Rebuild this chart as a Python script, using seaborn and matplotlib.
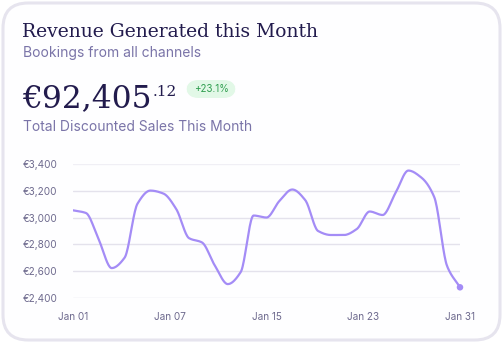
import numpy as np
import pandas as pd
import seaborn as sns
import matplotlib
matplotlib.use("Agg")
import matplotlib.pyplot as plt
from matplotlib.patches import FancyBboxPatch

# ---------------- data ----------------
days = list(range(1, 32))
revenue = [3055, 3035, 2834, 2622, 2700, 3105, 3203, 3181, 3065, 2846,
           2814, 2640, 2502, 2592, 3016, 3001, 3125, 3211, 3132, 2900,
           2870, 2870, 2915, 3046, 3020, 3185, 3353, 3301, 3155, 2637, 2478]
tick_labels = ["Jan 01", "Jan 07", "Jan 15", "Jan 23", "Jan 31"]
y_ticks = [2400, 2600, 2800, 3000, 3200, 3400]

title = "Revenue Generated this Month"
subtitle = "Bookings from all channels"
total_main = "€92,405"
total_cents = ".12"
change = "+23.1%"
caption = "Total Discounted Sales This Month"

W, H = 503, 344

def monotone(x, y, n=20):
    x = np.asarray(x, float); y = np.asarray(y, float)
    h = np.diff(x); d = np.diff(y) / h
    m = np.zeros_like(y)
    m[0], m[-1] = d[0], d[-1]
    for i in range(1, len(y) - 1):
        if d[i - 1] * d[i] <= 0:
            m[i] = 0
        else:
            w1 = 2 * h[i] + h[i - 1]; w2 = h[i] + 2 * h[i - 1]
            m[i] = (w1 + w2) / (w1 / d[i - 1] + w2 / d[i])
    xs, ys = [], []
    for i in range(len(x) - 1):
        t = np.linspace(0, 1, n, endpoint=False)
        h00 = 2*t**3 - 3*t**2 + 1; h10 = t**3 - 2*t**2 + t
        h01 = -2*t**3 + 3*t**2; h11 = t**3 - t**2
        xs.append(x[i] + t * h[i])
        ys.append(h00*y[i] + h10*h[i]*m[i] + h01*y[i+1] + h11*h[i]*m[i+1])
    xs.append([x[-1]]); ys.append([y[-1]])
    return np.concatenate(xs), np.concatenate(ys)

sns.set_theme(style="white")
plt.rcParams["font.family"] = ["Inter", "DejaVu Sans"]

fig = plt.figure(figsize=(W / 100, H / 100), dpi=100)
fig.patch.set_facecolor("white")

def fx(x): return x / W
def fy(y): return 1 - y / H

# card
card = FancyBboxPatch((fx(3), fy(340)), fx(497), (337) / H,
                      boxstyle="round,pad=0,rounding_size=0.05",
                      transform=fig.transFigure, facecolor="#fefeff",
                      edgecolor="#e6e4ee", linewidth=2.2, zorder=-5,
                      mutation_aspect=W / H)
fig.patches.append(card)

dark = "#221b4d"
muted = "#7a74a8"

fig.text(fx(22), fy(37), title, fontsize=13.5, color=dark,
         family=["DejaVu Serif"], va="baseline")
fig.text(fx(23), fy(57), subtitle, fontsize=10, color=muted, va="baseline")
tmain = fig.text(fx(22), fy(107), total_main, fontsize=22.5, color=dark,
                 family=["DejaVu Serif"], va="baseline")
fig.canvas.draw()
bb = tmain.get_window_extent()
fig.text((bb.x1 + 1) / W, fy(96), total_cents, fontsize=11, color=dark,
         family=["DejaVu Serif"], va="baseline")

badge = FancyBboxPatch((fx(186), fy(98)), fx(50), 18 / H,
                       boxstyle="round,pad=0,rounding_size=0.025",
                       transform=fig.transFigure, facecolor="#e2f8e7",
                       edgecolor="none", mutation_aspect=W / H, zorder=-4)
fig.patches.append(badge)
fig.text(fx(211), fy(89), change, fontsize=7, color="#2f9e4f",
         ha="center", va="center")
fig.text(fx(23), fy(131), caption, fontsize=10, color=muted, va="baseline")

# chart
ax = fig.add_axes([fx(73), fy(297.7), (460 - 73) / W, (297.7 - 164.3) / H])
ax.set_facecolor("none")
x_idx = np.arange(len(days))
xs, ys = monotone(x_idx, revenue)
sns.lineplot(x=xs, y=ys, ax=ax, color="#a48cf6", linewidth=1.6, zorder=3)
ax.scatter([x_idx[-1]], [revenue[-1]], s=22, color="#a48cf6", zorder=4,
           clip_on=False, edgecolors="none")
ax.set_xlim(0, len(days) - 1)
ax.set_ylim(2400, 3400)
ax.set_yticks(y_ticks)
ax.set_yticklabels([f"€{v:,}" for v in y_ticks])
ax.set_xticks(np.linspace(0, len(days) - 1, len(tick_labels)))
ax.set_xticklabels(tick_labels)
for v in y_ticks:
    ax.axhline(v, color="#f0eff5" if v == 3400 else "#e4e2ec",
               linewidth=1.0, zorder=1)
for s in ax.spines.values():
    s.set_visible(False)
ax.tick_params(axis="y", length=0, pad=11, labelsize=7.2, labelcolor="#6e6a8e")
ax.tick_params(axis="x", length=0, pad=10, labelsize=7.2, labelcolor="#6e6a8e")
ax.set_xlabel(""); ax.set_ylabel("")

fig.savefig("out.png", dpi=100)
